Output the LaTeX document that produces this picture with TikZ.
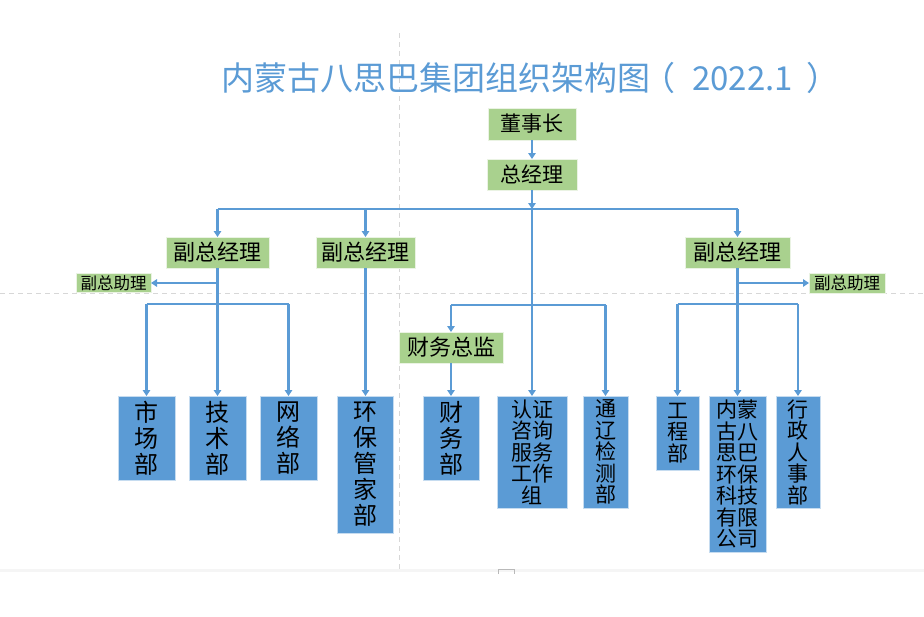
\documentclass[tikz,border=0pt]{standalone}
\usepackage{fontspec}
\setmainfont{Noto Sans CJK SC}
\usetikzlibrary{arrows.meta,positioning}
\definecolor{lineblue}{RGB}{91,155,213}
\definecolor{boxblue}{RGB}{91,155,213}
\definecolor{boxgreen}{RGB}{169,209,142}
\definecolor{guidegray}{RGB}{215,215,215}
\lineskiplimit=-30pt

\begin{document}
\begin{tikzpicture}[
    x=1pt, y=-1pt,
    head/.style={inner sep=0pt, outer sep=0pt, draw=white!75!boxgreen, line width=1pt, fill=boxgreen, text=black, minimum height=31},
    dept/.style={anchor=north, inner sep=0pt, outer sep=0pt, draw=white!65!boxblue, line width=1pt, fill=boxblue, text=black, align=center},
    big/.style={font=\fontsize{24}{26}\selectfont},
    small/.style={font=\fontsize{21}{21.5}\selectfont},
    link/.style={draw=lineblue, line width=2.2pt},
    arr/.style={link, -{Triangle[width=7.5pt,length=6pt]}},
    guide/.style={draw=guidegray, line width=1pt, dash pattern=on 5pt off 4pt}
  ]
  \useasboundingbox (0,0) rectangle (924,616);
  \fill[gray!8] (0,569) rectangle (924,572);
  \draw[gray!55, line width=0.6pt] (498,574) |- (514,569) -- (514,574);
  \draw[guide] (399,33) -- (399,569);
  \draw[guide] (0,293) -- (924,293);

  \node[anchor=west, inner sep=0pt, text=lineblue, font=\fontsize{33}{33}\selectfont] (title) at (221,78) {内蒙古八思巴集团组织架构图\hspace{-8pt}（\hspace{17pt}2022.1\hspace{14pt}）};

  \node[head, minimum width=88, minimum height=32, font=\fontsize{21}{21}\selectfont] (chair) at (532,124) {董事长};
  \node[head, minimum width=90, font=\fontsize{21}{21}\selectfont] (gm) at (532,174.5) {总经理};
  \node[head, minimum width=103, font=\fontsize{22}{22}\selectfont] (vp1) at (217.5,252.5) {副总经理};
  \node[head, minimum width=99, font=\fontsize{22}{22}\selectfont] (vp2) at (365.5,252.5) {副总经理};
  \node[head, minimum width=105, font=\fontsize{22}{22}\selectfont] (vp3) at (737.5,252.5) {副总经理};
  \node[head, minimum width=75, minimum height=19, font=\fontsize{16.5}{16.5}\selectfont] (asst1) at (113.5,283) {副总助理};
  \node[head, minimum width=76, minimum height=20, font=\fontsize{16.5}{16.5}\selectfont] (asst2) at (847,283) {副总助理};
  \node[head, minimum width=104, font=\fontsize{22}{22}\selectfont] (cfo) at (451,347.5) {财务总监};

  \node[dept, big, minimum width=57, minimum height=84] (mkt) at (146.5,396) {市\\场\\部};
  \node[dept, big, minimum width=57, minimum height=84] (tech) at (217.5,396) {技\\术\\部};
  \node[dept, big, minimum width=57, minimum height=84] (net) at (288.5,396) {网\\络\\部};
  \node[dept, big, minimum width=56, minimum height=137] (env) at (365.5,396) {环\\保\\管\\家\\部};
  \node[dept, big, minimum width=56, minimum height=84] (fin) at (451,396) {财\\务\\部};
  \node[dept, small, minimum width=70, minimum height=112] (cert) at (532,396) {认证\\咨询\\服务\\工作\\组};
  \node[dept, small, minimum width=45, minimum height=112] (test) at (605.5,396) {通\\辽\\检\\测\\部};
  \node[dept, small, minimum width=43, minimum height=74] (eng) at (677.5,396) {工\\程\\部};
  \node[dept, small, minimum width=57, minimum height=156] (corp) at (737.5,396) {内蒙\\古八\\思巴\\环保\\科技\\有限\\公司};
  \node[dept, small, minimum width=44, minimum height=112] (hr) at (798,396) {行\\政\\人\\事\\部};

  \coordinate (topbus) at (532,209);
  \coordinate (lowbus) at (0,304);
  \coordinate (midbus) at (0,305);

  \draw[arr] (chair.south) -- (gm.north);
  \draw[arr] (gm.south) -- (topbus);
  \draw[arr] (topbus) -- (cert.north);
  \draw[link] (vp1.north |- topbus) -- (vp3.north |- topbus);
  \foreach \n in {vp1,vp2,vp3}
    \draw[arr] (\n.north |- topbus) -- (\n.north);

  \draw[arr] (vp1.south) -- (tech.north);
  \draw[arr] (vp1.south |- asst1.east) -- (asst1.east);
  \draw[link] (mkt.north |- lowbus) -- (net.north |- lowbus);
  \foreach \n in {mkt,net}
    \draw[arr] (\n.north |- lowbus) -- (\n.north);

  \draw[arr] (vp2.south) -- (env.north);

  \draw[link] (cfo.north |- midbus) -- (test.north |- midbus);
  \foreach \n in {cfo,test}
    \draw[arr] (\n.north |- midbus) -- (\n.north);
  \draw[arr] (cfo.south) -- (fin.north);

  \draw[arr] (vp3.south) -- (corp.north);
  \draw[arr] (vp3.south |- asst2.west) -- (asst2.west);
  \draw[link] (eng.north |- lowbus) -- (hr.north |- lowbus);
  \foreach \n in {eng,hr}
    \draw[arr] (\n.north |- lowbus) -- (\n.north);
\end{tikzpicture}
\end{document}
